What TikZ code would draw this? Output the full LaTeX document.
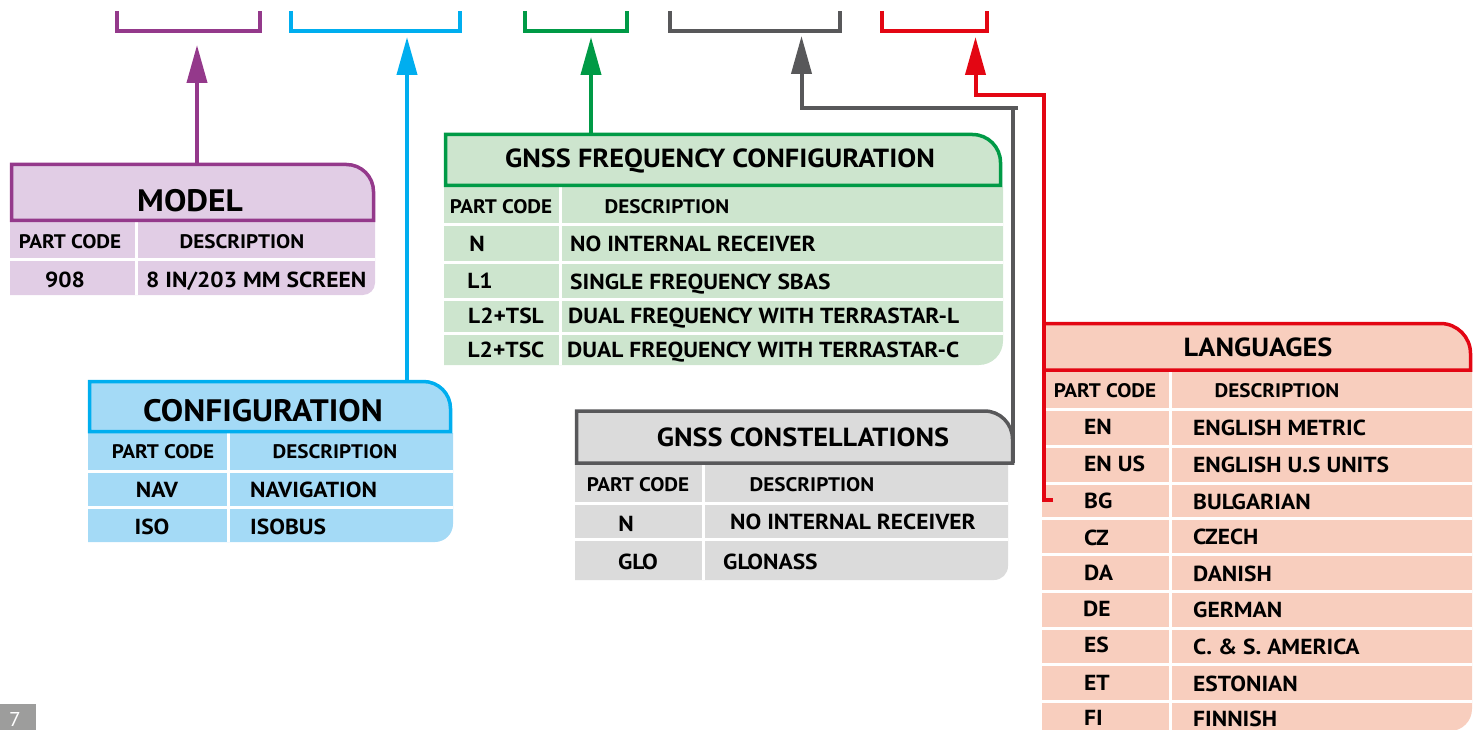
\documentclass[tikz,border=0pt]{standalone}
\usepackage{fontspec}
\setmainfont{PT Sans}[FakeStretch=1.08]
\usetikzlibrary{arrows.meta,calc}
\definecolor{cPur}{HTML}{94398B}
\definecolor{fPur}{HTML}{E1CDE5}
\definecolor{cCya}{HTML}{00AEEF}
\definecolor{fCya}{HTML}{A4DAF6}
\definecolor{cGrn}{HTML}{009A46}
\definecolor{fGrn}{HTML}{CDE5CE}
\definecolor{cGry}{HTML}{58585A}
\definecolor{fGry}{HTML}{DBDBDB}
\definecolor{cRed}{HTML}{E30613}
\definecolor{fRed}{HTML}{F8CEBE}
\definecolor{cPg}{HTML}{9D9D9C}
\newcommand{\hdrshape}[6]{\draw[#6] (#1,#4) -- (#1,#2) -- ({#3-#5},#2) .. controls ({#3-0.448*#5},#2) and (#3,{#2+0.448*#5}) .. (#3,{#2+#5}) -- (#3,#4) -- cycle;}
\newcommand{\tblshape}[6]{\fill[#6] (#1,#2) -- (#3,#2) -- (#3,{#4-#5}) .. controls (#3,{#4-0.448*#5}) and ({#3-0.448*#5},#4) .. ({#3-#5},#4) -- (#1,#4) -- cycle;}
\tikzset{
  ttlA/.style={font=\fontsize{31}{32}\selectfont\bfseries, inner sep=0pt, text height=21.7pt, text depth=0pt},
  ttlB/.style={font=\fontsize{26.2}{27}\selectfont\bfseries, inner sep=0pt, text height=18.3pt, text depth=0pt},
  colh/.style={font=\fontsize{19.6}{20}\selectfont\bfseries, inner sep=0pt, text height=13.7pt, text depth=0pt},
  dat/.style={font=\fontsize{21.75}{22}\selectfont\bfseries, inner sep=0pt, text height=15.2pt, text depth=0pt},
  datl/.style={dat, anchor=west},
  boxn/.style={inner sep=0pt, outer sep=0pt, draw=none},
  hdr/.style={draw=#1, line width=3.5pt, line join=miter},
  sep/.style={draw=white, line width=3pt},
  brk/.style={draw=#1, line width=4.5pt, line join=miter, line cap=butt},
  conn/.style={draw=#1, line width=4pt, line join=miter, line cap=butt},
  arr/.style={draw=#1, line width=4pt, line join=miter, -{Triangle[width=20pt,length=38pt]}},
}
\begin{document}
\begin{tikzpicture}[x=1pt,y=-1pt]
\useasboundingbox (0,0) rectangle (1481,730);

% ---------- top brackets ----------
\draw[brk=cPur] (117,11) -- (117,31) -- (260,31) -- (260,11);
\draw[brk=cCya] (291,11) -- (291,31) -- (460,31) -- (460,11);
\draw[brk=cGrn] (525,11) -- (525,31) -- (627,31) -- (627,11);
\draw[brk=cGry] (670,11) -- (670,31) -- (840,31) -- (840,11);
\draw[brk=cRed] (882,11) -- (882,31) -- (987,31) -- (987,11);
\coordinate (pm) at (197,45);
\coordinate (cm) at (407,37);
\coordinate (gm) at (591,37);
\coordinate (km) at (801.5,36);
\coordinate (rm) at (975.5,37);

% ---------- tables (fills) ----------
\tblshape{10}{222}{375}{295}{12}{fPur}
\draw[sep] (10,260) -- (375,260);
\draw[sep] (136,222) -- (136,295);

\tblshape{88}{433}{453}{542}{18}{fCya}
\draw[sep] (88,471) -- (453,471);
\draw[sep] (88,507.5) -- (453,507.5);
\draw[sep] (228,433) -- (228,542);

\tblshape{444}{187}{1003}{365}{24}{fGrn}
\foreach \yy in {225,262.5,299.5,333.5} \draw[sep] (444,\yy) -- (1003,\yy);
\draw[sep] (560,187) -- (560,365);

\tblshape{575}{463}{1008}{580}{14}{fGry}
\draw[sep] (575,503.5) -- (1008,503.5);
\draw[sep] (575,539) -- (1008,539);
\draw[sep] (703,463) -- (703,580);

\tblshape{1042}{370}{1472}{731}{22}{fRed}
\foreach \yy in {409,446.5,483,518.5,554.5,591.5,628.5,664.5,701.5} \draw[sep] (1042,\yy) -- (1472,\yy);
\draw[sep] (1170,370) -- (1170,731);

% ---------- header boxes ----------
\hdrshape{11.5}{164.5}{373.5}{220.5}{27}{hdr=cPur, fill=fPur}
\node[boxn, minimum width=362pt, minimum height=56pt] (hmodel) at (192.5,192.5) {};
\hdrshape{89.5}{381.5}{450.5}{431.5}{27}{hdr=cCya, fill=fCya}
\node[boxn, minimum width=361pt, minimum height=50pt] (hconf) at (270,406.5) {};
\hdrshape{445.5}{134.5}{1000.5}{185.5}{28}{hdr=cGrn, fill=fGrn}
\node[boxn, minimum width=555pt, minimum height=51pt] (hfreq) at (723,160) {};
\hdrshape{576.5}{411}{1012.5}{463}{28}{hdr=cGry, fill=fGry}
\node[boxn, minimum width=436pt, minimum height=52pt] (hcons) at (794.5,437) {};
\hdrshape{1044}{323.5}{1470.5}{370}{30}{hdr=cRed, fill=fRed}
\node[boxn, minimum width=426.5pt, minimum height=46.5pt] (hlang) at (1257.25,346.75) {};

% ---------- connectors ----------
\draw[arr=cPur] (hmodel.north -| pm) -- (pm);
\draw[arr=cCya] (hconf.north -| cm) -- (cm);
\draw[arr=cGrn] (hfreq.north -| gm) -- (gm);
\coordinate (gk) at (1012.5,108);
\draw[conn=cGry] (hcons.south east) -- ($(gk)+(0,-2)$);
\draw[arr=cGry] ($(gk)+(5.5,0)$) -- (gk -| km) -- (km);
\coordinate (rk) at (1044,95.5);
\coordinate (rs) at (1053,499.5);
\draw[arr=cRed] (rs) -- (rs -| hlang.west) -- (rk) -- (rk -| rm) -- (rm);

% ---------- titles ----------
\node[ttlA] (tmodel) at (190,201) {MODEL};
\node[ttlA] (tconf) at (263,411) {CONFIGURATION};
\node[ttlB] (tfreq) at (720,158) {GNSS FREQUENCY CONFIGURATION};
\node[ttlB] (tcons) at (803,437) {GNSS CONSTELLATIONS};
\node[ttlB] (tlang) at (1258,347) {LANGUAGES};

% ---------- MODEL table ----------
\node[colh] (m-pc) at (70,242) {PART CODE};
\node[colh] (m-de) at (242,242) {DESCRIPTION};
\node[dat] (m-c1) at (65,280) {908};
\node[datl] (m-d1) at (146,280) {8 IN/203 MM SCREEN};

% ---------- CONFIGURATION table ----------
\node[colh] (c-pc) at (163,452) {PART CODE};
\node[colh] (c-de) at (335,452) {DESCRIPTION};
\node[dat] (c-c1) at (157,490) {NAV};
\node[datl] (c-d1) at (250,490) {NAVIGATION};
\node[dat] (c-c2) at (152,527) {ISO};
\node[datl] (c-d2) at (250,527) {ISOBUS};

% ---------- GNSS FREQUENCY table ----------
\node[colh] (f-pc) at (501,207) {PART CODE};
\node[colh] (f-de) at (667,207) {DESCRIPTION};
\node[dat] (f-c1) at (477,244) {N};
\node[datl] (f-d1) at (570,244) {NO INTERNAL RECEIVER};
\node[dat] (f-c2) at (480,281) {L1};
\node[datl] (f-d2) at (570,282) {SINGLE FREQUENCY SBAS};
\node[dat] (f-c3) at (506,316) {L2+TSL};
\node[datl] (f-d3) at (568,316) {DUAL FREQUENCY WITH TERRASTAR-L};
\node[dat] (f-c4) at (506,350) {L2+TSC};
\node[datl] (f-d4) at (567,350) {DUAL FREQUENCY WITH TERRASTAR-C};

% ---------- GNSS CONSTELLATIONS table ----------
\node[colh] (k-pc) at (638,485) {PART CODE};
\node[colh] (k-de) at (812,485) {DESCRIPTION};
\node[dat] (k-c1) at (626,524) {N};
\node[datl] (k-d1) at (730,522) {NO INTERNAL RECEIVER};
\node[dat] (k-c2) at (638,562) {GLO};
\node[datl] (k-d2) at (723,562) {GLONASS};

% ---------- LANGUAGES table ----------
\node[colh] (l-pc) at (1105,391) {PART CODE};
\node[colh] (l-de) at (1277,391) {DESCRIPTION};
\node[datl] (l-c1) at (1084,427) {EN};
\node[datl] (l-d1) at (1193,428) {ENGLISH METRIC};
\node[datl] (l-c2) at (1084,464) {EN US};
\node[datl] (l-d2) at (1193,465) {ENGLISH U.S UNITS};
\node[datl] (l-c3) at (1084,501) {BG};
\node[datl] (l-d3) at (1193,502) {BULGARIAN};
\node[datl] (l-c4) at (1084,538) {CZ};
\node[datl] (l-d4) at (1193,537) {CZECH};
\node[datl] (l-c5) at (1084,573) {DA};
\node[datl] (l-d5) at (1193,574) {DANISH};
\node[datl] (l-c6) at (1083,609) {DE};
\node[datl] (l-d6) at (1193,610) {GERMAN};
\node[datl] (l-c7) at (1084,645) {ES};
\node[datl] (l-d7) at (1193,647) {C. \& S. AMERICA};
\node[datl] (l-c8) at (1084,683) {ET};
\node[datl] (l-d8) at (1193,684) {ESTONIAN};
\node[datl] (l-c9) at (1084,718) {FI};
\node[datl] (l-d9) at (1193,719) {FINNISH};

% ---------- page number ----------
\fill[cPg] (0,704) rectangle (36,731);
\node[font=\fontsize{20}{20}\selectfont, text=white, inner sep=0pt] (pgno) at (15,719) {7};
\end{tikzpicture}
\end{document}
